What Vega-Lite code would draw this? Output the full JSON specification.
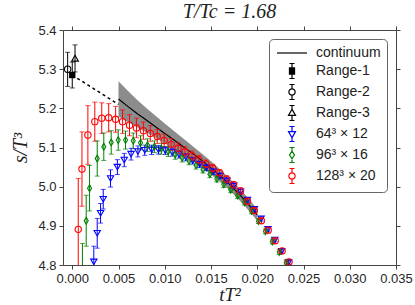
{
  "$schema": "https://vega.github.io/schema/vega-lite/v6.json",
  "width": 333,
  "height": 235,
  "autosize": {"type": "none"},
  "padding": {"left": 63, "top": 30, "right": 19, "bottom": 40},
  "title": {"text": "T/Tc = 1.68", "font": "Liberation Serif", "fontStyle": "italic", "fontSize": 20, "fontWeight": "normal", "color": "#222222", "offset": 2},
  "config": {
    "view": {"stroke": null},
    "axis": {"grid": false, "domainColor": "#444444", "tickColor": "#444444", "tickSize": 4, "domainWidth": 1, "tickWidth": 1, "labelFont": "Liberation Sans", "labelFontSize": 13, "labelColor": "#262626", "labelPadding": 3, "labelOverlap": false, "labelFlush": false, "titleFont": "Liberation Serif", "titleFontStyle": "italic", "titleFontWeight": "normal", "titleFontSize": 20, "titleColor": "#222222"}
  },
  "datasets": {
    "cont": [
      {"x": 0.005, "y": 5.224, "lo": 5.179, "hi": 5.269},
      {"x": 0.006, "y": 5.205, "lo": 5.165, "hi": 5.245},
      {"x": 0.007, "y": 5.187, "lo": 5.152, "hi": 5.222},
      {"x": 0.008, "y": 5.170, "lo": 5.139, "hi": 5.201},
      {"x": 0.009, "y": 5.153, "lo": 5.125, "hi": 5.181},
      {"x": 0.010, "y": 5.136, "lo": 5.111, "hi": 5.161},
      {"x": 0.011, "y": 5.119, "lo": 5.096, "hi": 5.142},
      {"x": 0.012, "y": 5.102, "lo": 5.081, "hi": 5.123},
      {"x": 0.013, "y": 5.085, "lo": 5.066, "hi": 5.104},
      {"x": 0.014, "y": 5.067, "lo": 5.049, "hi": 5.085},
      {"x": 0.015, "y": 5.048, "lo": 5.031, "hi": 5.065},
      {"x": 0.016, "y": 5.028, "lo": 5.012, "hi": 5.044},
      {"x": 0.017, "y": 5.006, "lo": 4.991, "hi": 5.021},
      {"x": 0.018, "y": 4.982, "lo": 4.967, "hi": 4.997},
      {"x": 0.019, "y": 4.956, "lo": 4.941, "hi": 4.971},
      {"x": 0.020, "y": 4.928, "lo": 4.913, "hi": 4.943}
    ],
    "dash": [
      {"x": 0.0, "y": 5.285},
      {"x": 0.005, "y": 5.21}
    ],
    "leg": [
      {"s": "continuum"}, {"s": "Range-1"}, {"s": "Range-2"}, {"s": "Range-3"},
      {"s": "64³ × 12"}, {"s": "96³ × 16"}, {"s": "128³ × 20"}
    ],
    "pts": [
      {"s": "Range-1", "x": 0.0, "y": 5.285, "lo": 5.252, "hi": 5.318},
      {"s": "Range-2", "x": -0.0005, "y": 5.300, "lo": 5.256, "hi": 5.343},
      {"s": "Range-3", "x": 0.0003, "y": 5.328, "lo": 5.293, "hi": 5.362},
      {"s": "64³ × 12", "x": 0.00233, "y": 4.808, "lo": 4.768, "hi": 4.848},
      {"s": "64³ × 12", "x": 0.00270, "y": 4.881, "lo": 4.843, "hi": 4.919},
      {"s": "64³ × 12", "x": 0.00306, "y": 4.932, "lo": 4.907, "hi": 4.957},
      {"s": "64³ × 12", "x": 0.00335, "y": 4.968, "lo": 4.943, "hi": 4.993},
      {"s": "64³ × 12", "x": 0.00414, "y": 5.021, "lo": 4.999, "hi": 5.043},
      {"s": "64³ × 12", "x": 0.00488, "y": 5.050, "lo": 5.031, "hi": 5.069},
      {"s": "64³ × 12", "x": 0.00562, "y": 5.068, "lo": 5.051, "hi": 5.085},
      {"s": "64³ × 12", "x": 0.00636, "y": 5.083, "lo": 5.068, "hi": 5.098},
      {"s": "64³ × 12", "x": 0.00710, "y": 5.090, "lo": 5.076, "hi": 5.104},
      {"s": "64³ × 12", "x": 0.00784, "y": 5.093, "lo": 5.080, "hi": 5.106},
      {"s": "64³ × 12", "x": 0.00858, "y": 5.094, "lo": 5.082, "hi": 5.106},
      {"s": "64³ × 12", "x": 0.00932, "y": 5.094, "lo": 5.083, "hi": 5.105},
      {"s": "64³ × 12", "x": 0.01006, "y": 5.092, "lo": 5.082, "hi": 5.102},
      {"s": "64³ × 12", "x": 0.01080, "y": 5.088, "lo": 5.078, "hi": 5.098},
      {"s": "64³ × 12", "x": 0.01154, "y": 5.082, "lo": 5.073, "hi": 5.091},
      {"s": "64³ × 12", "x": 0.01228, "y": 5.075, "lo": 5.066, "hi": 5.084},
      {"s": "64³ × 12", "x": 0.01302, "y": 5.066, "lo": 5.058, "hi": 5.074},
      {"s": "64³ × 12", "x": 0.01376, "y": 5.057, "lo": 5.049, "hi": 5.065},
      {"s": "64³ × 12", "x": 0.01450, "y": 5.048, "lo": 5.041, "hi": 5.055},
      {"s": "64³ × 12", "x": 0.01524, "y": 5.038, "lo": 5.031, "hi": 5.045},
      {"s": "64³ × 12", "x": 0.01598, "y": 5.027, "lo": 5.020, "hi": 5.034},
      {"s": "64³ × 12", "x": 0.01672, "y": 5.015, "lo": 5.009, "hi": 5.021},
      {"s": "64³ × 12", "x": 0.01746, "y": 5.002, "lo": 4.996, "hi": 5.008},
      {"s": "64³ × 12", "x": 0.01820, "y": 4.987, "lo": 4.981, "hi": 4.993},
      {"s": "64³ × 12", "x": 0.01894, "y": 4.966, "lo": 4.960, "hi": 4.972},
      {"s": "64³ × 12", "x": 0.01968, "y": 4.942, "lo": 4.936, "hi": 4.948},
      {"s": "64³ × 12", "x": 0.02042, "y": 4.918, "lo": 4.912, "hi": 4.924},
      {"s": "64³ × 12", "x": 0.02116, "y": 4.891, "lo": 4.886, "hi": 4.896},
      {"s": "64³ × 12", "x": 0.02190, "y": 4.864, "lo": 4.859, "hi": 4.869},
      {"s": "64³ × 12", "x": 0.02264, "y": 4.835, "lo": 4.830, "hi": 4.840},
      {"s": "64³ × 12", "x": 0.02338, "y": 4.806, "lo": 4.801, "hi": 4.811},
      {"s": "96³ × 16", "x": 0.00110, "y": 4.760, "lo": 4.665, "hi": 4.855},
      {"s": "96³ × 16", "x": 0.00151, "y": 4.913, "lo": 4.848, "hi": 4.978},
      {"s": "96³ × 16", "x": 0.00187, "y": 4.996, "lo": 4.938, "hi": 5.054},
      {"s": "96³ × 16", "x": 0.00270, "y": 5.072, "lo": 5.027, "hi": 5.117},
      {"s": "96³ × 16", "x": 0.00341, "y": 5.102, "lo": 5.067, "hi": 5.137},
      {"s": "96³ × 16", "x": 0.00421, "y": 5.113, "lo": 5.083, "hi": 5.143},
      {"s": "96³ × 16", "x": 0.00497, "y": 5.119, "lo": 5.093, "hi": 5.145},
      {"s": "96³ × 16", "x": 0.00576, "y": 5.119, "lo": 5.096, "hi": 5.142},
      {"s": "96³ × 16", "x": 0.00659, "y": 5.117, "lo": 5.097, "hi": 5.137},
      {"s": "96³ × 16", "x": 0.00738, "y": 5.112, "lo": 5.094, "hi": 5.130},
      {"s": "96³ × 16", "x": 0.00813, "y": 5.106, "lo": 5.090, "hi": 5.122},
      {"s": "96³ × 16", "x": 0.00888, "y": 5.102, "lo": 5.087, "hi": 5.117},
      {"s": "96³ × 16", "x": 0.00963, "y": 5.097, "lo": 5.083, "hi": 5.111},
      {"s": "96³ × 16", "x": 0.01038, "y": 5.090, "lo": 5.077, "hi": 5.103},
      {"s": "96³ × 16", "x": 0.01113, "y": 5.082, "lo": 5.070, "hi": 5.094},
      {"s": "96³ × 16", "x": 0.01188, "y": 5.074, "lo": 5.063, "hi": 5.085},
      {"s": "96³ × 16", "x": 0.01263, "y": 5.066, "lo": 5.056, "hi": 5.076},
      {"s": "96³ × 16", "x": 0.01338, "y": 5.055, "lo": 5.045, "hi": 5.065},
      {"s": "96³ × 16", "x": 0.01413, "y": 5.044, "lo": 5.035, "hi": 5.053},
      {"s": "96³ × 16", "x": 0.01488, "y": 5.032, "lo": 5.023, "hi": 5.041},
      {"s": "96³ × 16", "x": 0.01563, "y": 5.020, "lo": 5.012, "hi": 5.028},
      {"s": "96³ × 16", "x": 0.01638, "y": 5.006, "lo": 4.998, "hi": 5.014},
      {"s": "96³ × 16", "x": 0.01713, "y": 4.992, "lo": 4.985, "hi": 4.999},
      {"s": "96³ × 16", "x": 0.01788, "y": 4.977, "lo": 4.970, "hi": 4.984},
      {"s": "96³ × 16", "x": 0.01863, "y": 4.960, "lo": 4.953, "hi": 4.967},
      {"s": "96³ × 16", "x": 0.01938, "y": 4.938, "lo": 4.931, "hi": 4.945},
      {"s": "96³ × 16", "x": 0.02013, "y": 4.912, "lo": 4.906, "hi": 4.918},
      {"s": "96³ × 16", "x": 0.02088, "y": 4.886, "lo": 4.880, "hi": 4.892},
      {"s": "96³ × 16", "x": 0.02163, "y": 4.860, "lo": 4.854, "hi": 4.866},
      {"s": "96³ × 16", "x": 0.02238, "y": 4.833, "lo": 4.827, "hi": 4.839},
      {"s": "96³ × 16", "x": 0.02313, "y": 4.806, "lo": 4.800, "hi": 4.812},
      {"s": "128³ × 20", "x": 0.00065, "y": 4.891, "lo": 4.761, "hi": 5.021},
      {"s": "128³ × 20", "x": 0.00105, "y": 5.045, "lo": 4.950, "hi": 5.140},
      {"s": "128³ × 20", "x": 0.00169, "y": 5.132, "lo": 5.057, "hi": 5.207},
      {"s": "128³ × 20", "x": 0.00244, "y": 5.166, "lo": 5.116, "hi": 5.216},
      {"s": "128³ × 20", "x": 0.00319, "y": 5.175, "lo": 5.136, "hi": 5.214},
      {"s": "128³ × 20", "x": 0.00394, "y": 5.176, "lo": 5.140, "hi": 5.212},
      {"s": "128³ × 20", "x": 0.00469, "y": 5.172, "lo": 5.139, "hi": 5.205},
      {"s": "128³ × 20", "x": 0.00544, "y": 5.166, "lo": 5.136, "hi": 5.196},
      {"s": "128³ × 20", "x": 0.00619, "y": 5.157, "lo": 5.130, "hi": 5.184},
      {"s": "128³ × 20", "x": 0.00694, "y": 5.150, "lo": 5.125, "hi": 5.175},
      {"s": "128³ × 20", "x": 0.00769, "y": 5.143, "lo": 5.121, "hi": 5.165},
      {"s": "128³ × 20", "x": 0.00844, "y": 5.136, "lo": 5.116, "hi": 5.156},
      {"s": "128³ × 20", "x": 0.00919, "y": 5.128, "lo": 5.110, "hi": 5.146},
      {"s": "128³ × 20", "x": 0.00994, "y": 5.118, "lo": 5.102, "hi": 5.134},
      {"s": "128³ × 20", "x": 0.01069, "y": 5.108, "lo": 5.093, "hi": 5.123},
      {"s": "128³ × 20", "x": 0.01144, "y": 5.098, "lo": 5.084, "hi": 5.112},
      {"s": "128³ × 20", "x": 0.01219, "y": 5.089, "lo": 5.076, "hi": 5.102},
      {"s": "128³ × 20", "x": 0.01294, "y": 5.079, "lo": 5.067, "hi": 5.091},
      {"s": "128³ × 20", "x": 0.01369, "y": 5.069, "lo": 5.058, "hi": 5.080},
      {"s": "128³ × 20", "x": 0.01444, "y": 5.058, "lo": 5.048, "hi": 5.068},
      {"s": "128³ × 20", "x": 0.01519, "y": 5.047, "lo": 5.037, "hi": 5.057},
      {"s": "128³ × 20", "x": 0.01594, "y": 5.035, "lo": 5.026, "hi": 5.044},
      {"s": "128³ × 20", "x": 0.01669, "y": 5.019, "lo": 5.010, "hi": 5.028},
      {"s": "128³ × 20", "x": 0.01744, "y": 5.005, "lo": 4.997, "hi": 5.013},
      {"s": "128³ × 20", "x": 0.01819, "y": 4.989, "lo": 4.981, "hi": 4.997},
      {"s": "128³ × 20", "x": 0.01894, "y": 4.963, "lo": 4.955, "hi": 4.971},
      {"s": "128³ × 20", "x": 0.01969, "y": 4.939, "lo": 4.932, "hi": 4.946},
      {"s": "128³ × 20", "x": 0.02044, "y": 4.913, "lo": 4.906, "hi": 4.920},
      {"s": "128³ × 20", "x": 0.02119, "y": 4.889, "lo": 4.882, "hi": 4.896},
      {"s": "128³ × 20", "x": 0.02194, "y": 4.862, "lo": 4.855, "hi": 4.869},
      {"s": "128³ × 20", "x": 0.02269, "y": 4.836, "lo": 4.830, "hi": 4.842},
      {"s": "128³ × 20", "x": 0.02344, "y": 4.808, "lo": 4.802, "hi": 4.814}
    ]
  },
  "resolve": {"axis": {"x": "independent", "y": "independent"}},
  "layer": [
    {
      "data": {"name": "cont"},
      "mark": {"type": "area", "color": "#808080", "opacity": 0.9, "clip": true},
      "encoding": {
        "x": {"field": "x", "type": "quantitative", "scale": {"domain": [-0.001, 0.035], "nice": false, "zero": false},
              "axis": {"orient": "bottom", "values": [0, 0.005, 0.01, 0.015, 0.02, 0.025, 0.03, 0.035], "format": ".3f", "title": "tT²", "titlePadding": 0, "titleFontSize": 19}},
        "y": {"field": "lo", "type": "quantitative", "scale": {"domain": [4.8, 5.4], "nice": false, "zero": false},
              "axis": {"orient": "left", "values": [4.8, 4.9, 5.0, 5.1, 5.2, 5.3, 5.4], "format": ".1f", "title": "s/T³", "titlePadding": 7}},
        "y2": {"field": "hi"}
      }
    },
    {
      "data": {"name": "cont"},
      "mark": {"type": "line", "color": "black", "strokeWidth": 1.2, "clip": true},
      "encoding": {
        "x": {"field": "x", "type": "quantitative", "scale": {"domain": [-0.001, 0.035], "nice": false, "zero": false},
              "axis": {"orient": "top", "values": [0, 0.005, 0.01, 0.015, 0.02, 0.025, 0.03, 0.035], "labels": false, "title": null}},
        "y": {"field": "y", "type": "quantitative", "scale": {"domain": [4.8, 5.4], "nice": false, "zero": false},
              "axis": {"orient": "right", "values": [4.8, 4.9, 5.0, 5.1, 5.2, 5.3, 5.4], "labels": false, "title": null}}
      }
    },
    {
      "data": {"name": "dash"},
      "mark": {"type": "line", "color": "black", "strokeWidth": 1.5, "strokeDash": [3, 3], "clip": true},
      "encoding": {
        "x": {"field": "x", "type": "quantitative", "scale": {"domain": [-0.001, 0.035], "nice": false, "zero": false}, "axis": null},
        "y": {"field": "y", "type": "quantitative", "scale": {"domain": [4.8, 5.4], "nice": false, "zero": false}, "axis": null}
      }
    },
    {
      "data": {"name": "pts"},
      "mark": {"type": "rule", "strokeWidth": 1, "clip": true},
      "encoding": {
        "x": {"field": "x", "type": "quantitative", "scale": {"domain": [-0.001, 0.035], "nice": false, "zero": false}, "axis": null},
        "y": {"field": "lo", "type": "quantitative", "scale": {"domain": [4.8, 5.4], "nice": false, "zero": false}, "axis": null},
        "y2": {"field": "hi"},
        "stroke": {"field": "s", "type": "nominal", "legend": null,
                  "scale": {"domain": ["Range-1", "Range-2", "Range-3", "64³ × 12", "96³ × 16", "128³ × 20"], "range": ["black", "black", "black", "#0000ff", "#008000", "#ff0000"]}}
      }
    },
    {
      "data": {"name": "pts"},
      "mark": {"type": "tick", "orient": "horizontal", "size": 5, "thickness": 1, "clip": true},
      "encoding": {
        "x": {"field": "x", "type": "quantitative", "scale": {"domain": [-0.001, 0.035], "nice": false, "zero": false}, "axis": null},
        "y": {"field": "lo", "type": "quantitative", "scale": {"domain": [4.8, 5.4], "nice": false, "zero": false}, "axis": null},
        "fill": {"field": "s", "type": "nominal", "legend": null,
                  "scale": {"domain": ["Range-3", "Range-2", "Range-1", "64³ × 12", "96³ × 16", "128³ × 20"], "range": ["black", "black", "black", "#0000ff", "#008000", "#ff0000"]}}
      }
    },
    {
      "data": {"name": "pts"},
      "mark": {"type": "tick", "orient": "horizontal", "size": 5, "thickness": 1, "clip": true},
      "encoding": {
        "x": {"field": "x", "type": "quantitative", "scale": {"domain": [-0.001, 0.035], "nice": false, "zero": false}, "axis": null},
        "y": {"field": "hi", "type": "quantitative", "scale": {"domain": [4.8, 5.4], "nice": false, "zero": false}, "axis": null},
        "fill": {"field": "s", "type": "nominal", "legend": null,
                  "scale": {"domain": ["Range-3", "Range-2", "Range-1", "64³ × 12", "96³ × 16", "128³ × 20"], "range": ["black", "black", "black", "#0000ff", "#008000", "#ff0000"]}}
      }
    },
    {
      "data": {"name": "pts"},
      "transform": [{"filter": "datum.s === '64³ × 12'"}],
      "mark": {"type": "point", "shape": "triangle-down", "size": 40, "color": "#0000ff", "filled": false, "strokeWidth": 1.1, "opacity": 1, "clip": true},
      "encoding": {
        "x": {"field": "x", "type": "quantitative", "scale": {"domain": [-0.001, 0.035], "nice": false, "zero": false}, "axis": null},
        "y": {"field": "y", "type": "quantitative", "scale": {"domain": [4.8, 5.4], "nice": false, "zero": false}, "axis": null}
      }
    },
    {
      "data": {"name": "pts"},
      "transform": [{"filter": "datum.s === '96³ × 16'"}],
      "mark": {"type": "point", "shape": "M0,-1L0.6,0L0,1L-0.6,0Z", "size": 45, "color": "#008000", "filled": false, "strokeWidth": 1.1, "opacity": 1, "clip": true},
      "encoding": {
        "x": {"field": "x", "type": "quantitative", "scale": {"domain": [-0.001, 0.035], "nice": false, "zero": false}, "axis": null},
        "y": {"field": "y", "type": "quantitative", "scale": {"domain": [4.8, 5.4], "nice": false, "zero": false}, "axis": null}
      }
    },
    {
      "data": {"name": "pts"},
      "transform": [{"filter": "datum.s === '128³ × 20'"}],
      "mark": {"type": "point", "shape": "circle", "size": 40, "color": "#ff0000", "filled": false, "strokeWidth": 1.1, "opacity": 1, "clip": true},
      "encoding": {
        "x": {"field": "x", "type": "quantitative", "scale": {"domain": [-0.001, 0.035], "nice": false, "zero": false}, "axis": null},
        "y": {"field": "y", "type": "quantitative", "scale": {"domain": [4.8, 5.4], "nice": false, "zero": false}, "axis": null}
      }
    },
    {
      "data": {"name": "pts"},
      "transform": [{"filter": "datum.s === 'Range-2'"}],
      "mark": {"type": "point", "shape": "circle", "size": 40, "color": "black", "filled": false, "strokeWidth": 1.1, "opacity": 1, "clip": true},
      "encoding": {
        "x": {"field": "x", "type": "quantitative", "scale": {"domain": [-0.001, 0.035], "nice": false, "zero": false}, "axis": null},
        "y": {"field": "y", "type": "quantitative", "scale": {"domain": [4.8, 5.4], "nice": false, "zero": false}, "axis": null}
      }
    },
    {
      "data": {"name": "pts"},
      "transform": [{"filter": "datum.s === 'Range-3'"}],
      "mark": {"type": "point", "shape": "triangle-up", "size": 45, "color": "black", "filled": false, "strokeWidth": 1.1, "opacity": 1, "clip": true},
      "encoding": {
        "x": {"field": "x", "type": "quantitative", "scale": {"domain": [-0.001, 0.035], "nice": false, "zero": false}, "axis": null},
        "y": {"field": "y", "type": "quantitative", "scale": {"domain": [4.8, 5.4], "nice": false, "zero": false}, "axis": null}
      }
    },
    {
      "data": {"name": "pts"},
      "transform": [{"filter": "datum.s === 'Range-1'"}],
      "mark": {"type": "point", "shape": "square", "size": 40, "color": "black", "filled": true, "opacity": 1, "clip": true},
      "encoding": {
        "x": {"field": "x", "type": "quantitative", "scale": {"domain": [-0.001, 0.035], "nice": false, "zero": false}, "axis": null},
        "y": {"field": "y", "type": "quantitative", "scale": {"domain": [4.8, 5.4], "nice": false, "zero": false}, "axis": null}
      }
    },
    {
      "data": {"name": "leg"},
      "mark": {"type": "point", "opacity": 0, "filled": false},
      "encoding": {
        "color": {"field": "s", "type": "nominal",
                  "scale": {"domain": ["continuum", "Range-1", "Range-2", "Range-3", "64³ × 12", "96³ × 16", "128³ × 20"], "range": ["black", "black", "black", "black", "#0000ff", "#008000", "#ff0000"]},
                  "legend": {"title": null, "orient": "top-right", "offset": 9, "padding": 6, "rowPadding": 1, "symbolSize": 196, "symbolOffset": 9, "labelOffset": 16, "labelFont": "Liberation Sans", "labelFontSize": 14, "labelColor": "#222222", "labelLimit": 200, "strokeColor": "#666666", "cornerRadius": 4, "fillColor": "white", "symbolStrokeWidth": 1.2, "symbolOpacity": 1}},
        "shape": {"field": "s", "type": "nominal",
                  "scale": {"domain": ["continuum", "Range-1", "Range-2", "Range-3", "64³ × 12", "96³ × 16", "128³ × 20"],
                            "range": [
                              "M-2.15,0H2.15",
                              "M0,-1.07V1.07M-0.36,-1.07H0.36M-0.36,1.07H0.36M-0.45,-0.45H0.45M-0.45,-0.3H0.45M-0.45,-0.15H0.45M-0.45,0H0.45M-0.45,0.15H0.45M-0.45,0.3H0.45M-0.45,0.45H0.45",
                              "M0,-1.07V-0.45M0,0.45V1.07M-0.36,-1.07H0.36M-0.36,1.07H0.36M0.45,0A0.45,0.45,0,1,1,-0.45,0A0.45,0.45,0,1,1,0.45,0",
                              "M0,-1.07V-0.55M0,0.35V1.07M-0.36,-1.07H0.36M-0.36,1.07H0.36M0,-0.55L0.5,0.35L-0.5,0.35Z",
                              "M0,-1.07V-0.35M0,0.55V1.07M-0.36,-1.07H0.36M-0.36,1.07H0.36M0,0.55L0.5,-0.35L-0.5,-0.35Z",
                              "M0,-1.07V-0.55M0,0.55V1.07M-0.36,-1.07H0.36M-0.36,1.07H0.36M0,-0.55L0.35,0L0,0.55L-0.35,0Z",
                              "M0,-1.07V-0.45M0,0.45V1.07M-0.36,-1.07H0.36M-0.36,1.07H0.36M0.45,0A0.45,0.45,0,1,1,-0.45,0A0.45,0.45,0,1,1,0.45,0"
                            ]},
                  "legend": {"title": null, "orient": "top-right", "offset": 9, "padding": 6, "rowPadding": 1, "symbolSize": 196, "symbolOffset": 9, "labelOffset": 16, "labelFont": "Liberation Sans", "labelFontSize": 14, "labelColor": "#222222", "labelLimit": 200, "strokeColor": "#666666", "cornerRadius": 4, "fillColor": "white", "symbolStrokeWidth": 1.2, "symbolOpacity": 1}}
      }
    }
  ]
}
